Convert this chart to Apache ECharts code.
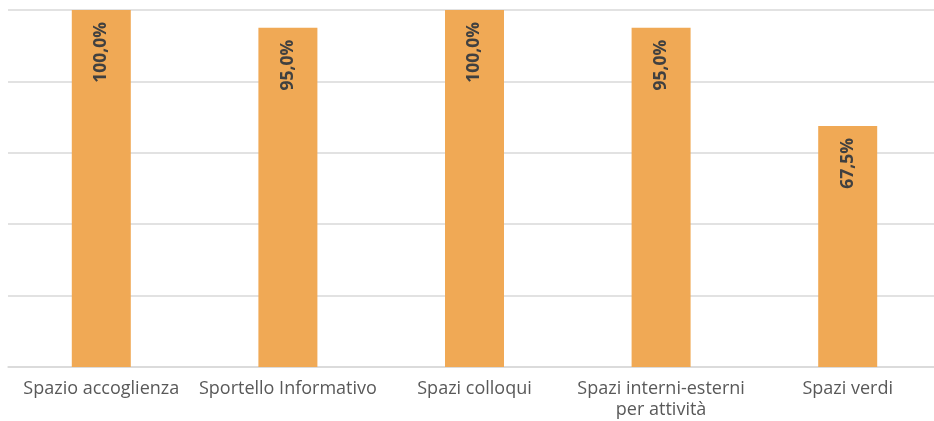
<!DOCTYPE html>
<html>
<head>
<meta charset="utf-8">
<script src="https://cdn.jsdelivr.net/npm/echarts@6/dist/echarts.min.js"></script>
<style>
  html, body { margin: 0; padding: 0; background: #ffffff; }
  #chart { width: 934px; height: 421px; }
</style>
</head>
<body>
<div id="chart"></div>
<script>
// Categories and percentage values
const categories = [
  'Spazio accoglienza',
  'Sportello Informativo',
  'Spazi colloqui',
  'Spazi interni-esterni\nper attività',
  'Spazi verdi'
];
const values = [100.0, 95.0, 100.0, 95.0, 67.5];

const chart = echarts.init(document.getElementById('chart'));

chart.setOption({
  animation: false,
  grid: { left: 8, top: 10, right: -7, height: 357, outerBoundsMode: 'none' },
  xAxis: {
    type: 'category',
    data: categories,
    axisLine: { lineStyle: { color: '#d9d9d9', width: 1.5 } },
    axisTick: { show: false },
    axisLabel: {
      color: '#595959',
      fontFamily: '"Open Sans", sans-serif',
      fontSize: 18,
      lineHeight: 21,
      margin: 11,
      interval: 0
    }
  },
  yAxis: {
    type: 'value',
    min: 0,
    max: 100,
    interval: 20,
    axisLabel: { show: false },
    axisLine: { show: false },
    axisTick: { show: false },
    splitLine: { lineStyle: { color: '#d9d9d9', width: 1.5 } }
  },
  series: [{
    type: 'bar',
    data: values,
    barWidth: 59,
    itemStyle: { color: '#f0a955' },
    label: {
      show: true,
      position: 'insideTop',
      distance: 12,
      rotate: 90,
      align: 'right',
      verticalAlign: 'middle',
      color: '#404040',
      fontFamily: '"Open Sans", sans-serif',
      fontWeight: 'bold',
      fontSize: 17.5,
      formatter: p => p.value.toFixed(1).replace('.', ',') + '%'
    }
  }]
});
</script>
</body>
</html>
